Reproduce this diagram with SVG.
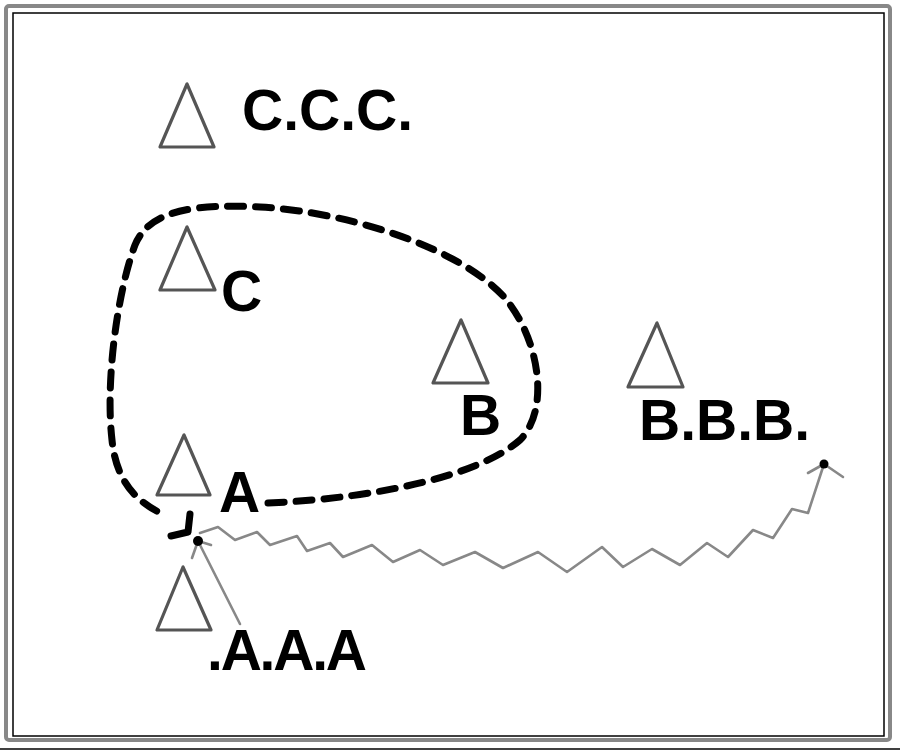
<svg xmlns="http://www.w3.org/2000/svg" width="900" height="752" viewBox="0 0 900 752">
<style>
.tri{fill:none;stroke:#555;stroke-width:3.2;stroke-linejoin:round}
.lbl{font-family:"Liberation Sans",Arial,sans-serif;font-weight:bold;font-size:57px;fill:#000}
.loop{fill:none;stroke:#000;stroke-width:7;stroke-linecap:round;stroke-dasharray:16 12}
.wave{fill:none;stroke:#888;stroke-width:2.6;stroke-linejoin:round;stroke-linecap:round}
.head{fill:none;stroke:#000;stroke-width:7;stroke-linecap:round;stroke-linejoin:round}
</style>
<rect x="0" y="0" width="900" height="752" fill="#fff"/>
<g id="frame">
<rect x="6" y="6" width="884" height="734" rx="3" fill="none" stroke="#888" stroke-width="4"/>
<rect x="13" y="13" width="871" height="723" fill="none" stroke="#000" stroke-width="1.5"/>
<line x1="0" y1="749" x2="900" y2="749" stroke="#000" stroke-width="1.5"/>
</g>
<g id="node-ccc">
<polygon class="tri" points="187,84 160,147 214,147"/>
<text class="lbl" x="242" y="130">C.C.C.</text>
</g>
<g id="node-c">
<polygon class="tri" points="187,227 160,290 215,290"/>
<text class="lbl" x="221" y="311">C</text>
</g>
<g id="node-b">
<polygon class="tri" points="461,320 433,383 488,383"/>
<text class="lbl" x="460" y="435">B</text>
</g>
<g id="node-a">
<polygon class="tri" points="184,435 157,495 210,495"/>
<text class="lbl" x="219" y="512">A</text>
</g>
<g id="node-aaa">
<polygon class="tri" points="183,567 157,630 211,630"/>
<text class="lbl" x="207" y="670" font-size="60" textLength="160" lengthAdjust="spacing">.A.A.A</text>
</g>
<g id="node-bbb">
<polygon class="tri" points="657,323 628,387 683,387"/>
<text class="lbl" x="639" y="440">B.B.B.</text>
</g>
<g id="connectors">
<path class="loop" d="M268,503 C380,498 480,475 520,440 C550,410 540,340 505,298 C460,248 350,212 260,207 C200,204 150,208 135,245 C118,290 105,380 112,440 C116,480 135,502 165,515"/>
<polyline class="head" points="190,514 188,532 171,536"/>
<polyline class="wave" points="200,533 218,527 235,540 257,532 270,545 297,536 307,551 330,543 343,557 372,545 393,562 420,550 443,565 475,552 503,568 538,552 567,572 602,547 623,567 652,549 680,565 707,543 728,557 753,530 773,538 792,509 808,513 824,464"/>
<polyline class="wave" points="808,473 824,464 843,477"/>
<circle cx="824" cy="464" r="4.5" fill="#000"/>
<line x1="240" y1="624" x2="198" y2="541" stroke="#888" stroke-width="2.6" stroke-linecap="round"/>
<polyline class="wave" points="192,558 198,541 211,545"/>
<circle cx="198" cy="541" r="5" fill="#000"/>
</g>
</svg>
